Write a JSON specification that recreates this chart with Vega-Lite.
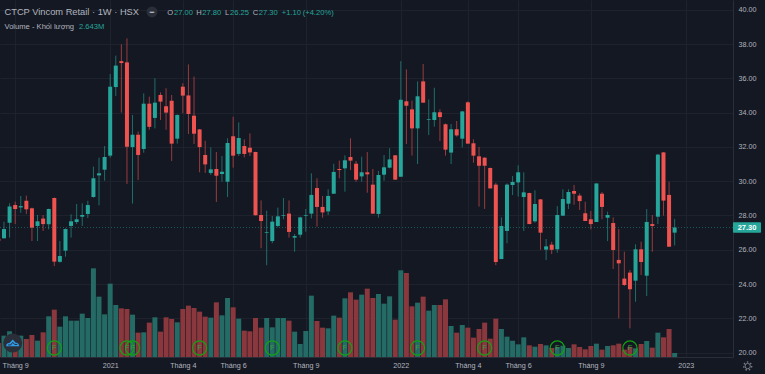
{
"$schema":"https://vega.github.io/schema/vega-lite/v6.json",
"width":733,"height":357,
"autosize":{"type":"none"},
"padding":{"left":0,"top":0,"right":32,"bottom":17},
"background":"#141823",
"config":{"view":{"stroke":null},"font":"Liberation Sans"},
"datasets":{
"candles":[
{"bar":-1,"o":26.65,"h":26.75,"l":26.4,"c":26.53,"v":9.24,"dir":"down"},
{"bar":0,"o":26.67,"h":27.64,"l":26.67,"c":27.21,"v":14.08,"dir":"up"},
{"bar":1,"o":27.58,"h":28.71,"l":26.71,"c":28.53,"v":16.94,"dir":"up"},
{"bar":2,"o":28.61,"h":28.81,"l":27.5,"c":28.38,"v":14.08,"dir":"down"},
{"bar":3,"o":28.47,"h":29.14,"l":28.16,"c":28.55,"v":14.08,"dir":"up"},
{"bar":4,"o":28.86,"h":29.16,"l":28.09,"c":28.36,"v":11.88,"dir":"down"},
{"bar":5,"o":28.42,"h":28.46,"l":26.51,"c":27.29,"v":14.52,"dir":"down"},
{"bar":6,"o":27.39,"h":28.03,"l":26.51,"c":27.66,"v":10.78,"dir":"up"},
{"bar":7,"o":27.82,"h":28.03,"l":27.1,"c":27.5,"v":16.28,"dir":"down"},
{"bar":8,"o":27.49,"h":28.4,"l":27.19,"c":28.38,"v":26.84,"dir":"up"},
{"bar":9,"o":29.02,"h":29.05,"l":25.05,"c":25.31,"v":31.24,"dir":"down"},
{"bar":10,"o":25.3,"h":26.51,"l":25.25,"c":25.64,"v":20.02,"dir":"up"},
{"bar":11,"o":25.95,"h":27.25,"l":25.6,"c":27.21,"v":26.84,"dir":"up"},
{"bar":12,"o":27.39,"h":28.07,"l":26.71,"c":27.66,"v":23.98,"dir":"up"},
{"bar":13,"o":27.62,"h":28.67,"l":27.5,"c":27.78,"v":23.98,"dir":"up"},
{"bar":14,"o":27.93,"h":28.71,"l":27.39,"c":28.03,"v":28.6,"dir":"up"},
{"bar":15,"o":28.09,"h":28.86,"l":27.85,"c":28.61,"v":25.74,"dir":"up"},
{"bar":16,"o":29.08,"h":30.85,"l":29.04,"c":30.17,"v":58.52,"dir":"up"},
{"bar":17,"o":30.34,"h":31.37,"l":28.59,"c":30.46,"v":39.82,"dir":"up"},
{"bar":18,"o":30.67,"h":32.05,"l":30.03,"c":31.41,"v":28.16,"dir":"up"},
{"bar":19,"o":31.49,"h":36.25,"l":31.37,"c":35.51,"v":48.4,"dir":"up"},
{"bar":20,"o":35.49,"h":37.32,"l":34.97,"c":36.74,"v":34.32,"dir":"up"},
{"bar":21,"o":37.0,"h":37.98,"l":34.0,"c":36.89,"v":32.12,"dir":"down"},
{"bar":22,"o":36.93,"h":38.33,"l":29.84,"c":32.01,"v":31.68,"dir":"down"},
{"bar":23,"o":31.99,"h":33.86,"l":28.69,"c":32.71,"v":27.94,"dir":"up"},
{"bar":24,"o":32.71,"h":32.9,"l":30.07,"c":31.53,"v":16.06,"dir":"down"},
{"bar":25,"o":31.88,"h":35.12,"l":31.66,"c":34.52,"v":16.28,"dir":"up"},
{"bar":26,"o":34.52,"h":34.93,"l":33.0,"c":33.17,"v":22.66,"dir":"down"},
{"bar":27,"o":33.69,"h":36.0,"l":33.08,"c":34.58,"v":26.18,"dir":"up"},
{"bar":28,"o":35.03,"h":35.18,"l":33.57,"c":34.64,"v":16.72,"dir":"down"},
{"bar":29,"o":34.37,"h":35.42,"l":33.0,"c":34.0,"v":26.18,"dir":"down"},
{"bar":30,"o":34.69,"h":35.03,"l":31.18,"c":32.19,"v":25.08,"dir":"down"},
{"bar":31,"o":32.48,"h":33.9,"l":32.19,"c":33.86,"v":22.88,"dir":"up"},
{"bar":32,"o":35.51,"h":35.71,"l":33.96,"c":34.99,"v":31.68,"dir":"down"},
{"bar":33,"o":35.0,"h":36.81,"l":32.75,"c":33.92,"v":33.88,"dir":"down"},
{"bar":34,"o":33.82,"h":36.1,"l":32.17,"c":32.77,"v":32.34,"dir":"down"},
{"bar":35,"o":33.02,"h":33.04,"l":30.52,"c":31.99,"v":29.92,"dir":"down"},
{"bar":36,"o":31.53,"h":32.36,"l":30.48,"c":30.98,"v":26.62,"dir":"down"},
{"bar":37,"o":30.48,"h":31.97,"l":30.36,"c":30.69,"v":25.96,"dir":"up"},
{"bar":38,"o":30.71,"h":31.7,"l":28.79,"c":30.32,"v":36.08,"dir":"down"},
{"bar":39,"o":30.42,"h":31.47,"l":29.97,"c":30.55,"v":27.5,"dir":"up"},
{"bar":40,"o":29.97,"h":32.5,"l":29.08,"c":32.23,"v":38.94,"dir":"up"},
{"bar":41,"o":32.62,"h":33.76,"l":30.79,"c":31.49,"v":32.78,"dir":"down"},
{"bar":42,"o":31.59,"h":33.43,"l":31.47,"c":32.52,"v":25.3,"dir":"up"},
{"bar":43,"o":32.05,"h":32.44,"l":31.39,"c":31.59,"v":17.38,"dir":"down"},
{"bar":44,"o":31.95,"h":32.79,"l":31.47,"c":31.68,"v":16.94,"dir":"down"},
{"bar":45,"o":31.7,"h":31.72,"l":28.0,"c":28.01,"v":25.74,"dir":"down"},
{"bar":46,"o":28.03,"h":28.88,"l":26.09,"c":27.68,"v":19.36,"dir":"down"},
{"bar":47,"o":26.99,"h":28.28,"l":25.1,"c":27.03,"v":25.74,"dir":"up"},
{"bar":48,"o":26.51,"h":27.97,"l":26.38,"c":27.64,"v":19.58,"dir":"up"},
{"bar":49,"o":27.39,"h":28.46,"l":27.31,"c":27.95,"v":25.74,"dir":"up"},
{"bar":50,"o":27.99,"h":29.02,"l":27.78,"c":28.03,"v":25.74,"dir":"up"},
{"bar":51,"o":28.11,"h":28.88,"l":26.71,"c":27.04,"v":23.98,"dir":"down"},
{"bar":52,"o":26.71,"h":26.92,"l":25.89,"c":26.8,"v":16.72,"dir":"up"},
{"bar":53,"o":26.88,"h":27.93,"l":26.71,"c":27.89,"v":8.58,"dir":"up"},
{"bar":54,"o":27.99,"h":28.38,"l":27.06,"c":28.03,"v":17.16,"dir":"up"},
{"bar":55,"o":28.11,"h":30.46,"l":27.83,"c":29.2,"v":40.48,"dir":"up"},
{"bar":56,"o":29.6,"h":30.17,"l":27.35,"c":28.5,"v":23.76,"dir":"down"},
{"bar":57,"o":28.5,"h":29.14,"l":27.87,"c":28.18,"v":19.36,"dir":"down"},
{"bar":58,"o":28.24,"h":29.53,"l":28.03,"c":29.14,"v":18.92,"dir":"up"},
{"bar":59,"o":29.27,"h":31.02,"l":29.27,"c":30.54,"v":27.28,"dir":"up"},
{"bar":60,"o":30.71,"h":31.2,"l":30.17,"c":30.65,"v":25.96,"dir":"down"},
{"bar":61,"o":30.75,"h":31.51,"l":29.39,"c":31.22,"v":38.72,"dir":"up"},
{"bar":62,"o":31.41,"h":32.5,"l":30.65,"c":31.2,"v":42.68,"dir":"down"},
{"bar":63,"o":31.02,"h":31.18,"l":29.97,"c":30.09,"v":37.84,"dir":"down"},
{"bar":64,"o":30.28,"h":31.43,"l":29.97,"c":30.52,"v":41.14,"dir":"up"},
{"bar":65,"o":30.52,"h":31.7,"l":29.33,"c":30.4,"v":45.1,"dir":"down"},
{"bar":66,"o":29.8,"h":30.71,"l":28.09,"c":28.11,"v":38.94,"dir":"down"},
{"bar":67,"o":28.09,"h":30.6,"l":27.87,"c":30.36,"v":41.58,"dir":"up"},
{"bar":68,"o":30.38,"h":31.53,"l":30.03,"c":30.81,"v":35.2,"dir":"up"},
{"bar":69,"o":30.79,"h":31.92,"l":30.75,"c":31.27,"v":40.04,"dir":"up"},
{"bar":70,"o":31.51,"h":31.53,"l":30.09,"c":30.09,"v":24.64,"dir":"down"},
{"bar":71,"o":30.26,"h":37.0,"l":30.26,"c":34.75,"v":57.2,"dir":"up"},
{"bar":72,"o":34.66,"h":36.52,"l":32.17,"c":34.4,"v":55.44,"dir":"down"},
{"bar":73,"o":34.19,"h":34.7,"l":31.49,"c":33.08,"v":33.44,"dir":"down"},
{"bar":74,"o":33.08,"h":35.82,"l":31.0,"c":34.95,"v":35.86,"dir":"up"},
{"bar":75,"o":35.82,"h":36.83,"l":34.58,"c":34.58,"v":39.82,"dir":"down"},
{"bar":76,"o":33.57,"h":34.77,"l":32.69,"c":33.61,"v":30.58,"dir":"up"},
{"bar":77,"o":33.57,"h":35.45,"l":33.18,"c":34.02,"v":34.32,"dir":"up"},
{"bar":78,"o":34.02,"h":34.19,"l":32.34,"c":33.74,"v":34.32,"dir":"down"},
{"bar":79,"o":33.32,"h":33.37,"l":31.49,"c":31.84,"v":38.06,"dir":"down"},
{"bar":80,"o":31.67,"h":33.34,"l":31.0,"c":33.03,"v":20.46,"dir":"up"},
{"bar":81,"o":33.03,"h":33.51,"l":32.6,"c":32.67,"v":16.06,"dir":"down"},
{"bar":82,"o":32.48,"h":34.1,"l":31.97,"c":34.07,"v":21.12,"dir":"up"},
{"bar":83,"o":34.6,"h":34.66,"l":32.19,"c":32.19,"v":19.36,"dir":"down"},
{"bar":84,"o":32.21,"h":32.44,"l":31.08,"c":31.49,"v":12.76,"dir":"down"},
{"bar":85,"o":31.45,"h":32.0,"l":28.52,"c":30.9,"v":18.48,"dir":"down"},
{"bar":86,"o":31.37,"h":31.4,"l":28.38,"c":30.9,"v":22.66,"dir":"down"},
{"bar":87,"o":30.77,"h":30.8,"l":29.58,"c":29.58,"v":12.1,"dir":"down"},
{"bar":88,"o":29.8,"h":29.91,"l":25.1,"c":25.29,"v":25.3,"dir":"down"},
{"bar":89,"o":25.46,"h":27.89,"l":25.46,"c":27.39,"v":18.48,"dir":"up"},
{"bar":90,"o":27.1,"h":29.87,"l":26.38,"c":29.8,"v":13.42,"dir":"up"},
{"bar":91,"o":29.78,"h":30.3,"l":29.19,"c":29.95,"v":10.78,"dir":"up"},
{"bar":92,"o":29.93,"h":30.93,"l":29.1,"c":30.52,"v":8.36,"dir":"up"},
{"bar":93,"o":29.08,"h":30.52,"l":27.1,"c":29.35,"v":12.98,"dir":"up"},
{"bar":94,"o":29.31,"h":29.33,"l":27.5,"c":27.5,"v":7.7,"dir":"down"},
{"bar":95,"o":27.66,"h":29.47,"l":27.58,"c":28.67,"v":6.82,"dir":"up"},
{"bar":96,"o":28.94,"h":28.96,"l":26.0,"c":27.0,"v":8.58,"dir":"down"},
{"bar":97,"o":26.01,"h":26.63,"l":25.4,"c":26.2,"v":7.7,"dir":"up"},
{"bar":98,"o":26.3,"h":26.47,"l":25.75,"c":26.0,"v":5.94,"dir":"down"},
{"bar":99,"o":26.03,"h":28.55,"l":25.83,"c":28.03,"v":6.6,"dir":"up"},
{"bar":100,"o":27.99,"h":29.53,"l":27.97,"c":28.96,"v":7.48,"dir":"up"},
{"bar":101,"o":28.69,"h":29.53,"l":28.38,"c":29.37,"v":5.94,"dir":"up"},
{"bar":102,"o":29.43,"h":29.78,"l":28.63,"c":29.27,"v":8.36,"dir":"down"},
{"bar":103,"o":29.16,"h":29.29,"l":28.32,"c":28.84,"v":6.6,"dir":"down"},
{"bar":104,"o":28.13,"h":28.8,"l":27.68,"c":27.68,"v":5.06,"dir":"down"},
{"bar":105,"o":27.78,"h":28.26,"l":27.19,"c":27.5,"v":7.26,"dir":"down"},
{"bar":106,"o":27.62,"h":29.87,"l":27.62,"c":29.87,"v":8.8,"dir":"up"},
{"bar":107,"o":29.27,"h":29.37,"l":27.78,"c":28.5,"v":4.84,"dir":"down"},
{"bar":108,"o":27.87,"h":28.22,"l":26.51,"c":28.03,"v":7.26,"dir":"up"},
{"bar":109,"o":27.56,"h":27.89,"l":24.88,"c":25.99,"v":7.7,"dir":"down"},
{"bar":110,"o":25.41,"h":27.21,"l":22.0,"c":25.21,"v":8.8,"dir":"down"},
{"bar":111,"o":24.32,"h":25.89,"l":23.89,"c":23.95,"v":4.84,"dir":"down"},
{"bar":112,"o":24.67,"h":24.82,"l":21.42,"c":23.7,"v":6.6,"dir":"down"},
{"bar":113,"o":24.2,"h":26.32,"l":22.97,"c":26.03,"v":5.72,"dir":"up"},
{"bar":114,"o":26.03,"h":26.47,"l":24.53,"c":25.29,"v":8.58,"dir":"down"},
{"bar":115,"o":24.49,"h":28.38,"l":23.3,"c":27.62,"v":10.56,"dir":"up"},
{"bar":116,"o":27.5,"h":28.03,"l":25.89,"c":27.39,"v":6.16,"dir":"down"},
{"bar":117,"o":27.93,"h":31.6,"l":27.5,"c":31.55,"v":16.06,"dir":"up"},
{"bar":118,"o":31.68,"h":31.7,"l":27.99,"c":28.87,"v":12.98,"dir":"down"},
{"bar":119,"o":29.2,"h":29.97,"l":26.18,"c":26.18,"v":18.48,"dir":"down"},
{"bar":120,"o":27.0,"h":27.8,"l":26.25,"c":27.3,"v":2.643,"dir":"up"}
],
"flags":[{"bar":9,"v":5.94,"flag":"F"},{"bar":22,"v":5.94,"flag":"F"},{"bar":23,"v":5.94,"flag":"F"},{"bar":35,"v":5.94,"flag":"F"},{"bar":48,"v":5.94,"flag":"F"},{"bar":61,"v":5.94,"flag":"F"},{"bar":74,"v":5.94,"flag":"F"},{"bar":86,"v":5.94,"flag":"F"},{"bar":99,"v":5.94,"flag":"F"},{"bar":112,"v":5.94,"flag":"F"}],
"headerGrey":[
{"bar":0.09,"p":39.87,"text":"CTCP Vincom Retail · 1W · HSX","kind":"title"},
{"bar":29.22,"p":39.81,"text":"O","kind":"ohlc"},
{"bar":34.41,"p":39.81,"text":"H","kind":"ohlc"},
{"bar":39.54,"p":39.81,"text":"L","kind":"ohlc"},
{"bar":44.5,"p":39.81,"text":"C","kind":"ohlc"},
{"bar":0.09,"p":39.02,"text":"Volume - Khối lượng","kind":"ohlc"}
],
"headerTeal":[
{"bar":30.42,"p":39.81,"text":"27.00"},
{"bar":35.48,"p":39.81,"text":"27.80"},
{"bar":40.44,"p":39.81,"text":"26.25"},
{"bar":45.57,"p":39.81,"text":"27.30"},
{"bar":49.69,"p":39.81,"text":"+1.10"},
{"bar":53.44,"p":39.81,"text":"(+4.20%)"},
{"bar":13.42,"p":39.02,"text":"2.643M"}
],
"last":[{"bar":-0.72,"bar2":130.44,"p":27.3}],
"lastTag":[{"bar":130.44,"bar2":135.45,"p":27.0,"p2":27.6,"mid":132.95,"price":27.3,"label":"27.30"}],
"button":[{"bar":26.48,"p":39.87,"label":"−"}],
"gear":[{"bar":133.07,"p":19.22}],
"logo":[{"bar":1.56,"v":9.24}]
},
"encoding":{
"x":{"field":"bar","type":"quantitative",
"scale":{"domain":[-0.716,130.44],"nice":false,"zero":false,"padding":0},
"axis":{"title":null,"values":[2,19,32,41,54,71,83,92,105,122],
"labelExpr":"datum.value==19?'2021':datum.value==71?'2022':datum.value==122?'2023':(datum.value==32||datum.value==83)?'Tháng 4':(datum.value==41||datum.value==92)?'Tháng 6':'Tháng 9'",
"grid":true,"gridColor":"#1e222d","gridWidth":1,"ticks":false,"domain":true,"domainColor":"#2a2e39","labelColor":"#b2b5be","labelFont":"Liberation Sans","labelFontSize":7.2,"labelPadding":4,"labelFlush":false,"labelOverlap":false,"zindex":0}}
},
"layer":[
{"layer":[
{"data":{"name":"candles"},"mark":{"type":"bar","width":5,"cornerRadius":0},
"encoding":{"y":{"field":"v","type":"quantitative","scale":{"domain":[0,235.6],"nice":false,"zero":true},"axis":null},
"color":{"field":"dir","type":"nominal","legend":null,"scale":{"domain":["up","down"],"range":["#246a65","#8a383d"]}}}},
{"data":{"name":"flags"},"mark":{"type":"point","filled":false,"shape":"circle","size":200,"stroke":"#14a014","strokeWidth":1.2,"opacity":1},
"encoding":{"y":{"field":"v","type":"quantitative","scale":{"domain":[0,235.6],"nice":false,"zero":true},"axis":null}}},
{"data":{"name":"flags"},"mark":{"type":"text","fontSize":7.5,"color":"#3aa03a","align":"center","baseline":"middle","font":"Liberation Sans"},
"encoding":{"y":{"field":"v","type":"quantitative","scale":{"domain":[0,235.6],"nice":false,"zero":true},"axis":null},"text":{"field":"flag"}}},
{"data":{"name":"logo"},"mark":{"type":"point","filled":true,"shape":"circle","size":360,"color":"#2a2e39","opacity":1},
"encoding":{"y":{"field":"v","type":"quantitative","scale":{"domain":[0,235.6],"nice":false,"zero":true},"axis":null}}},
{"data":{"name":"logo"},"mark":{"type":"point","filled":true,"size":170,"color":"#2f9be8","opacity":1,"shape":"M-1,0.5 C-1,0.1 -0.75,-0.05 -0.5,0 L0,-0.55 L0.45,-0.05 C0.75,-0.1 1,0.15 1,0.5 Z"},
"encoding":{"y":{"field":"v","type":"quantitative","scale":{"domain":[0,235.6],"nice":false,"zero":true},"axis":null}}},
{"data":{"name":"logo"},"mark":{"type":"point","filled":false,"size":170,"stroke":"#2a2e39","strokeWidth":1,"opacity":1,"shape":"M-0.7,0.3 L-0.3,0.3 L0,-0.1 L0.3,0.22 L0.7,0.22"},
"encoding":{"y":{"field":"v","type":"quantitative","scale":{"domain":[0,235.6],"nice":false,"zero":true},"axis":null}}}
]},
{"layer":[
{"data":{"name":"candles"},"mark":{"type":"rule","strokeWidth":1,"opacity":0.6},
"encoding":{"y":{"field":"l","type":"quantitative","scale":{"domain":[19.749,40.566],"nice":false,"zero":false},
"axis":{"title":null,"orient":"right","values":[20,22,24,26,28,30,32,34,36,38,40],"format":".2f","grid":true,"gridColor":"#1e222d","gridWidth":1,"ticks":false,"domain":true,"domainColor":"#2a2e39","labelColor":"#b2b5be","labelFont":"Liberation Sans","labelFontSize":7.2,"labelPadding":5,"labelFlush":false,"labelOverlap":false,"zindex":0}},
"y2":{"field":"h"},
"color":{"field":"dir","type":"nominal","legend":null,"scale":{"domain":["up","down"],"range":["#26a69a","#ef5350"]}}}},
{"data":{"name":"candles"},"mark":{"type":"bar","width":4,"cornerRadius":0},
"encoding":{"y":{"field":"o","type":"quantitative","scale":{"domain":[19.749,40.566],"nice":false,"zero":false},"axis":null},
"y2":{"field":"c"},
"color":{"field":"dir","type":"nominal","legend":null,"scale":{"domain":["up","down"],"range":["#26a69a","#ef5350"]}}}},
{"data":{"name":"last"},"mark":{"type":"rule","color":"#26a69a","opacity":0.45,"strokeWidth":1,"strokeDash":[1,2]},
"encoding":{"x2":{"field":"bar2"},"y":{"field":"p","type":"quantitative","scale":{"domain":[19.749,40.566],"nice":false,"zero":false},"axis":null}}},
{"data":{"name":"lastTag"},"mark":{"type":"rect","color":"#26a69a","cornerRadius":1},
"encoding":{"x2":{"field":"bar2"},"y":{"field":"p","type":"quantitative","scale":{"domain":[19.749,40.566],"nice":false,"zero":false},"axis":null},"y2":{"field":"p2"}}},
{"data":{"name":"lastTag"},"mark":{"type":"text","color":"#ffffff","fontSize":7.5,"fontWeight":"bold","align":"center","baseline":"middle","font":"Liberation Sans"},
"encoding":{"x":{"field":"mid","type":"quantitative"},"y":{"field":"price","type":"quantitative","scale":{"domain":[19.749,40.566],"nice":false,"zero":false},"axis":null},"text":{"field":"label"}}},
{"data":{"name":"gear"},"mark":{"type":"point","shape":"circle","filled":false,"size":28,"stroke":"#787b86","strokeWidth":1,"opacity":1},
"encoding":{"y":{"field":"p","type":"quantitative","scale":{"domain":[19.749,40.566],"nice":false,"zero":false},"axis":null}}},
{"data":{"name":"gear"},"mark":{"type":"point","shape":"circle","filled":false,"size":64,"stroke":"#787b86","strokeWidth":1.4,"strokeDash":[1.5,2],"opacity":1},
"encoding":{"y":{"field":"p","type":"quantitative","scale":{"domain":[19.749,40.566],"nice":false,"zero":false},"axis":null}}},
{"data":{"name":"button"},"mark":{"type":"point","shape":"circle","filled":true,"size":120,"color":"#2a2e39","opacity":1},
"encoding":{"y":{"field":"p","type":"quantitative","scale":{"domain":[19.749,40.566],"nice":false,"zero":false},"axis":null}}},
{"data":{"name":"button"},"mark":{"type":"text","color":"#d1d4dc","fontSize":9,"fontWeight":"bold","align":"center","baseline":"middle","font":"Liberation Sans"},
"encoding":{"y":{"field":"p","type":"quantitative","scale":{"domain":[19.749,40.566],"nice":false,"zero":false},"axis":null},"text":{"field":"label"}}},
{"data":{"name":"headerGrey"},"transform":[{"filter":"datum.kind=='title'"}],"mark":{"type":"text","color":"#b2b5be","fontSize":9.3,"align":"left","baseline":"middle","font":"Liberation Sans"},
"encoding":{"y":{"field":"p","type":"quantitative","scale":{"domain":[19.749,40.566],"nice":false,"zero":false},"axis":null},"text":{"field":"text"}}},
{"data":{"name":"headerGrey"},"transform":[{"filter":"datum.kind=='ohlc'"}],"mark":{"type":"text","color":"#b2b5be","fontSize":7.6,"align":"left","baseline":"middle","font":"Liberation Sans"},
"encoding":{"y":{"field":"p","type":"quantitative","scale":{"domain":[19.749,40.566],"nice":false,"zero":false},"axis":null},"text":{"field":"text"}}},
{"data":{"name":"headerTeal"},"mark":{"type":"text","color":"#26a69a","fontSize":7.6,"align":"left","baseline":"middle","font":"Liberation Sans"},
"encoding":{"y":{"field":"p","type":"quantitative","scale":{"domain":[19.749,40.566],"nice":false,"zero":false},"axis":null},"text":{"field":"text"}}}
],
"resolve":{"axis":{"y":"independent"}}}
],
"resolve":{"scale":{"y":"independent","color":"independent"}}
}
